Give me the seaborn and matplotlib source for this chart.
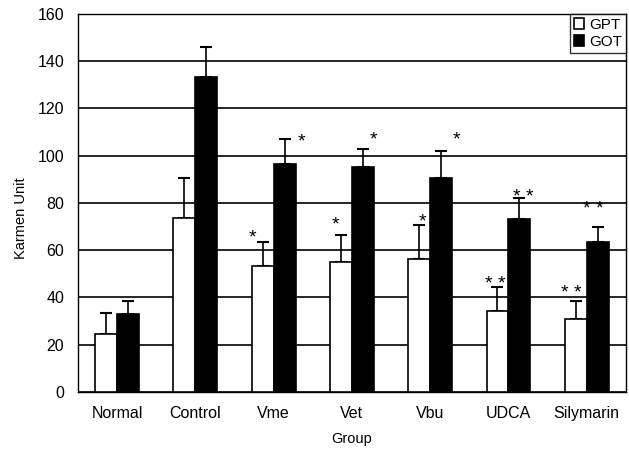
import pandas as pd
import seaborn as sns
import matplotlib.pyplot as plt
import numpy as np

# Dados
groups = ["Normal", "Control", "Vme", "Vet", "Vbu", "UDCA", "Silymarin"]
gpt_mean = [24.5, 73.6, 53.5, 55.2, 56.2, 34.4, 30.8]
gpt_err = [9.0, 17.0, 10.0, 11.2, 14.5, 9.9, 7.7]
got_mean = [33.0, 133.3, 96.4, 95.4, 90.7, 73.2, 63.4]
got_err = [5.6, 12.7, 10.6, 7.5, 11.4, 8.8, 6.6]

# marcas de significância: (grupo, série, texto, y)
stars = [
    ("Vme", "GPT", "*", 66.5), ("Vme", "GOT", "*", 107.5),
    ("Vet", "GPT", "*", 72.0), ("Vet", "GOT", "*", 108.0),
    ("Vbu", "GPT", "*", 73.6), ("Vbu", "GOT", "*", 108.0),
    ("UDCA", "GPT", "**", 47.0), ("UDCA", "GOT", "**", 83.8),
    ("Silymarin", "GPT", "**", 43.0), ("Silymarin", "GOT", "**", 78.7),
]

df = pd.DataFrame({
    "Group": groups * 2,
    "Enzyme": ["GPT"] * len(groups) + ["GOT"] * len(groups),
    "value": gpt_mean + got_mean,
    "err": gpt_err + got_err,
})

sns.set_style("white")
plt.rcParams["font.family"] = ["Liberation Sans", "DejaVu Sans"]
plt.rcParams["text.color"] = "black"
plt.rcParams["axes.labelcolor"] = "black"
plt.rcParams["xtick.color"] = "black"
plt.rcParams["ytick.color"] = "black"

fig = plt.figure(figsize=(6.29, 4.5), dpi=100)
ax = fig.add_axes([0.124, 0.129, 0.871, 0.84])

sns.barplot(data=df, x="Group", y="value", hue="Enzyme", order=groups,
            hue_order=["GPT", "GOT"], palette={"GPT": "white", "GOT": "black"},
            width=0.56, gap=0, errorbar=None, edgecolor="black", linewidth=1.2,
            ax=ax, zorder=3)

# barras de erro (só para cima)
centers = {}
for bars, enz in zip(ax.containers, ["GPT", "GOT"]):
    sub = df[df["Enzyme"] == enz].set_index("Group").loc[groups]
    xs = [b.get_x() + b.get_width() / 2 for b in bars]
    for g, x, b in zip(groups, xs, bars):
        centers[(g, enz)] = (x, b.get_width())
    ax.errorbar(xs, sub["value"], yerr=[np.zeros(len(xs)), sub["err"]],
                fmt="none", ecolor="black", elinewidth=1.2, capsize=4,
                capthick=1.5, zorder=2)

# asteriscos
offs = {("Vme", "GPT"): -0.45, ("Vme", "GOT"): 0.75, ("Vet", "GPT"): -0.25,
        ("Vet", "GOT"): 0.5, ("Vbu", "GPT"): 0.15, ("Vbu", "GOT"): 0.7,
        ("UDCA", "GPT"): -0.1, ("UDCA", "GOT"): 0.2, ("Silymarin", "GPT"): -0.2,
        ("Silymarin", "GOT"): -0.2}
for g, enz, txt, y in stars:
    x, w = centers[(g, enz)]
    ax.text(x + offs[(g, enz)] * w, y - 1.5, txt.replace("*", "* ").strip(),
            ha="center", va="center", fontsize=14, zorder=4)

ax.set_ylim(0, 160)
ax.set_yticks(range(0, 161, 20))
ax.yaxis.grid(True, color="black", linewidth=1.2)
ax.set_axisbelow(True)
ax.set_xlim(-0.5, len(groups) - 0.5)
ax.set_xticks(np.arange(0.5, len(groups) - 0.5), minor=True)
ax.tick_params(axis="x", which="minor", direction="in", length=4, width=1)
ax.tick_params(axis="both", which="major", length=0, labelsize=11.5)
ax.tick_params(axis="x", which="major", pad=10)
ax.tick_params(axis="y", which="major", pad=10)
for s in ax.spines.values():
    s.set_color("black")
    s.set_linewidth(1.0)

ax.set_xlabel("Group", fontsize=10.5, labelpad=8)
ax.set_ylabel("Karmen Unit", fontsize=10.5)
ax.yaxis.set_label_coords(-0.092, 0.46)

leg = ax.legend(loc="upper right", frameon=True, fancybox=False, edgecolor="black",
                fontsize=11, handlelength=0.7, handleheight=0.7, handletextpad=0.3,
                borderpad=0.25, borderaxespad=0.0, labelspacing=0.2)
leg.get_frame().set_linewidth(1.0)
leg.set_zorder(5)

plt.savefig("out.png", dpi=100)
plt.close()
